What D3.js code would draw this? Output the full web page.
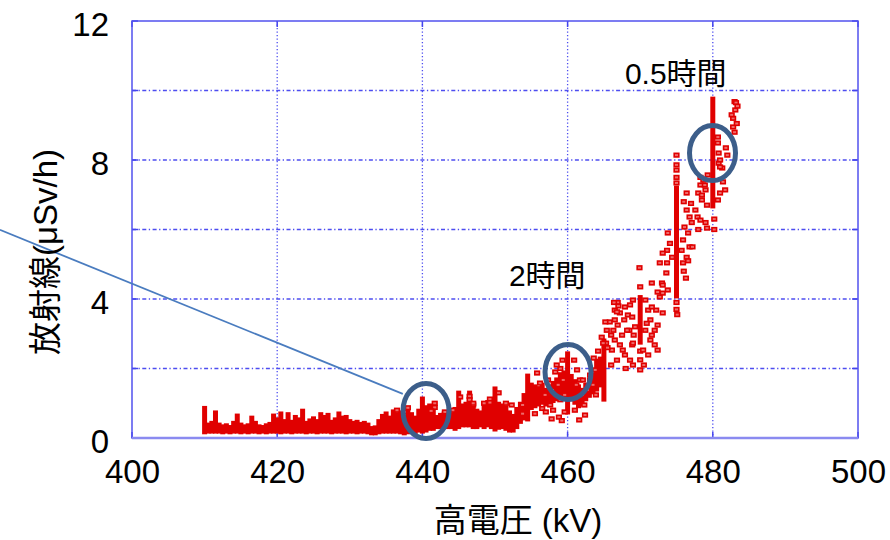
<!DOCTYPE html>
<html><head><meta charset="utf-8">
<script src="https://cdn.jsdelivr.net/npm/d3@7"></script>
<style>
html,body{margin:0;padding:0;background:#fff;}
svg{display:block;}
</style></head>
<body>
<svg id="c" width="890" height="540"></svg>
<script>
// ---- data ----
const xTicks = [400, 420, 440, 460, 480, 500];
const yGrid = [0, 2, 4, 6, 8, 10, 12];
const yLabels = [0, 4, 8, 12];

// dense runs of markers: kV, low and high radiation (µSv/h)
const colKV = [410.0,410.5,411.0,411.5,412.0,412.5,413.0,413.5,414.0,414.5,415.0,415.5,416.0,416.5,417.0,417.5,418.0,418.5,419.0,419.5,
 420.0,420.5,421.0,421.5,422.0,422.5,423.0,423.5,424.0,424.5,425.0,425.5,426.0,426.5,427.0,427.5,428.0,428.5,429.0,429.5,
 430.0,430.5,431.0,431.5,432.0,432.5,433.0,433.5,434.0,434.5,435.0,435.5,436.0,436.5,437.0,437.5,438.0,438.5,439.0,439.5,
 440.0,440.5,441.0,441.5,442.0,442.5,443.0,443.5,444.0,444.5,445.0,445.5,446.0,446.5,447.0,447.5,448.0,448.5,449.0,449.5,
 450.0,450.5,451.0,451.5,452.0,452.5,453.0,453.5,454.0,454.5,455.0,455.5,456.0,456.5,457.0,457.5,458.0,458.5,459.0,459.5,
 460.0,460.5,461.0,461.5,462.0,462.5,463.0,463.5,464.0,464.5,465.0,470.0,475.0,480.0];
const colLo = [0.15,0.17,0.17,0.17,0.17,0.15,0.17,0.15,0.17,0.17,0.15,0.17,0.15,0.17,0.17,0.15,0.17,0.15,0.17,0.17,
 0.17,0.15,0.17,0.17,0.15,0.17,0.17,0.17,0.15,0.17,0.17,0.15,0.17,0.17,0.17,0.15,0.17,0.17,0.17,0.15,
 0.17,0.17,0.15,0.17,0.17,0.15,0.12,0.12,0.15,0.17,0.17,0.17,0.17,0.17,0.15,0.12,0.15,0.17,0.15,0.20,
 0.17,0.20,0.25,0.25,0.30,0.30,0.32,0.30,0.30,0.25,0.30,0.35,0.35,0.35,0.30,0.30,0.35,0.30,0.35,0.30,
 0.23,0.28,0.30,0.25,0.20,0.20,0.30,0.45,0.55,0.52,0.85,0.90,0.95,1.00,0.95,1.00,1.05,1.10,1.10,1.20,
 0.72,1.10,1.00,0.90,0.95,1.10,1.20,1.30,1.38,1.50,1.09,2.73,4.06,6.65];
const colHi = [0.88,0.40,0.45,0.75,0.40,0.35,0.38,0.33,0.45,0.66,0.40,0.35,0.38,0.60,0.45,0.35,0.33,0.38,0.42,0.66,
 0.55,0.72,0.50,0.70,0.48,0.62,0.55,0.80,0.45,0.52,0.58,0.50,0.70,0.62,0.68,0.48,0.55,0.72,0.60,0.62,
 0.50,0.45,0.48,0.42,0.45,0.40,0.30,0.32,0.50,0.65,0.72,0.60,0.78,0.70,0.75,0.62,0.85,0.70,0.60,0.80,
 1.15,0.90,0.95,0.80,0.62,0.68,0.72,0.75,0.70,0.85,1.32,0.95,1.00,1.32,0.90,0.80,0.75,0.95,1.05,1.10,
 1.44,1.00,0.95,0.90,0.75,0.65,0.85,1.00,1.25,1.81,1.55,1.50,1.45,1.55,1.40,1.50,1.60,1.70,1.85,1.90,
 2.45,1.80,1.65,1.50,1.40,1.55,1.70,1.85,2.24,2.30,2.82,4.07,7.22,9.78];

// scattered single readings: kV and radiation (µSv/h)
const ptKV = [436.5,437.5,438.0,441.7,441.7,441.2,445.2,446.5,446.5,448.5,449.3,449.3,450.5,451.5,452.3,443.1,444.2,447.0,447.0,
 453.8,453.8,455.8,456.2,456.9,457.6,457.3,457.9,458.0,458.3,458.7,459.0,459.0,459.4,459.6,459.6,460.9,461.3,461.2,461.7,
 462.0,462.3,462.4,461.0,461.6,462.7,462.1,463.1,463.5,463.8,463.9,456.5,457.0,455.5,458.8,458.5,459.3,457.8,459.2,463.6,464.2,465.3,
 465.8,466.3,466.5,466.9,467.2,466.1,467.5,467.9,466.8,467.8,466.0,468.0,468.5,468.9,468.6,469.1,468.3,469.0,470.0,470.0,470.0,
 470.0,469.9,470.7,471.1,471.4,471.6,472.0,470.7,472.4,471.1,470.5,472.2,466.9,467.2,466.5,468.6,468.9,468.2,469.0,467.6,
 465.2,465.4,464.9,471.6,472.7,470.9,472.0,473.1,471.4,472.4,470.4,471.6,472.4,472.7,473.6,473.0,473.8,466.5,467.9,466.8,
 469.0,469.3,473.1,473.1,464.7,465.5,466.0,466.4,467.0,
 475.0,475.0,475.0,475.0,475.0,475.0,475.0,475.1,473.8,474.1,473.7,474.4,473.7,473.1,476.4,476.4,476.8,477.1,476.1,476.6,
 475.9,476.8,476.4,475.9,475.7,477.6,477.9,478.3,478.0,479.0,479.2,478.5,478.0,479.0,478.3,478.3,478.7,479.3,480.2,480.2,
 480.8,481.3,481.4,481.0,481.7,480.7,482.0,483.0,483.2,483.1,482.8,482.8,481.8,481.0,480.7,480.7,480.8,481.0,478.9,478.5,
 479.2,483.4,482.6,483.3,483.0,476.0,477.0,476.0,476.3,476.6,477.2];
const ptVal = [0.80,0.75,0.87,1.00,0.88,0.78,1.18,1.20,1.10,1.00,1.12,1.02,1.30,1.00,0.95,0.75,0.80,0.95,1.00,
 0.95,0.70,1.87,1.58,1.24,0.95,1.67,1.38,0.80,1.90,1.53,2.00,1.10,1.67,1.24,0.75,2.24,1.96,1.53,1.67,
 1.24,0.95,0.66,0.80,0.52,1.38,1.67,1.81,1.53,1.96,1.24,0.85,0.75,0.70,0.60,2.10,2.24,0.55,0.50,2.30,2.50,2.73,
 3.34,3.10,2.82,3.25,2.68,2.53,2.96,2.39,2.24,3.40,2.10,2.00,3.10,2.68,2.24,2.96,3.54,2.10,2.50,2.25,1.96,
 4.35,4.90,3.97,3.68,3.40,2.96,2.68,3.10,3.25,2.39,2.10,3.68,3.90,3.60,3.40,3.83,3.48,3.10,2.73,2.53,
 3.34,3.10,2.73,3.77,4.06,3.30,3.10,3.60,2.82,2.53,2.53,4.46,4.20,5.04,4.75,4.46,4.26,3.68,3.77,3.63,
 3.97,3.20,4.40,4.17,2.90,2.60,2.96,3.90,3.80,
 8.14,7.86,7.71,7.50,7.34,3.90,3.70,3.55,5.90,5.60,5.40,5.20,5.04,5.32,7.05,6.56,6.36,6.20,6.07,5.90,
 5.70,5.50,5.20,5.04,5.40,6.56,6.36,6.27,6.00,6.20,6.04,6.85,7.05,7.14,7.28,7.50,7.42,7.57,6.30,6.00,
 7.91,7.77,7.37,7.05,7.14,6.85,8.14,9.68,9.65,9.44,9.20,8.95,8.35,7.80,8.66,8.49,8.20,8.00,7.28,6.99,
 6.70,9.55,9.30,9.05,8.80,6.80,6.75,4.80,4.60,5.10,5.50];

// annotations
const circleKV = [440.5, 460.06, 479.96];
const circleVal = [0.78, 1.90, 8.20];
const noteText = ["0.5時間", "2時間"];
const noteKV = [474.9, 457.2];
const noteVal = [10.19, 4.37];
const pointerKV = [381.8, 437.3];
const pointerVal = [5.99, 1.27];

// ---- drawing ----
const svg = d3.select("#c");
const L = 132, R = 858, T = 21, B = 438;
const x = d3.scaleLinear().domain([400, 500]).range([L, R]);
const y = d3.scaleLinear().domain([0, 12]).range([B, T]);
const gridCol = "#4d4df0";
const numFont = "'Liberation Sans', Arial, sans-serif";
const jpFont = "'Liberation Sans', 'Noto Sans CJK JP', sans-serif";

// grid lines
svg.append("g").selectAll("line").data(xTicks.filter(d => d > 400 && d < 500)).join("line")
  .attr("x1", d => x(d)).attr("x2", d => x(d)).attr("y1", T).attr("y2", B)
  .attr("stroke", gridCol).attr("stroke-width", 1.3).attr("stroke-dasharray", "1.3,2.2");
svg.append("g").selectAll("line").data(yGrid.filter(d => d > 0 && d < 12)).join("line")
  .attr("x1", L).attr("x2", R).attr("y1", d => y(d)).attr("y2", d => y(d))
  .attr("stroke", gridCol).attr("stroke-width", 1.3).attr("stroke-dasharray", "4,2.5,1.3,2.5");

// inward ticks on all sides
const tk = svg.append("g").attr("stroke", "#4444ee").attr("stroke-width", 1.5);
xTicks.forEach(d => {
  tk.append("line").attr("x1", x(d)).attr("x2", x(d)).attr("y1", B).attr("y2", B - 6);
  tk.append("line").attr("x1", x(d)).attr("x2", x(d)).attr("y1", T).attr("y2", T + 6);
});
yGrid.forEach(d => {
  tk.append("line").attr("x1", L).attr("x2", L + 6).attr("y1", y(d)).attr("y2", y(d));
  tk.append("line").attr("x1", R).attr("x2", R - 6).attr("y1", y(d)).attr("y2", y(d));
});

// frame
svg.append("rect").attr("x", L).attr("y", T).attr("width", R - L).attr("height", B - T)
  .attr("fill", "none").attr("stroke", "#5252ee").attr("stroke-width", 1.5);
svg.append("line").attr("x1", L).attr("x2", R).attr("y1", B).attr("y2", B)
  .attr("stroke", "#8a8af0").attr("stroke-width", 2.5);

// tick labels via d3 axes
const xAxis = d3.axisBottom(x).tickValues(xTicks).tickSize(0).tickPadding(0);
const gx = svg.append("g").attr("transform", `translate(0,459.5)`).call(xAxis);
gx.select(".domain").remove();
gx.selectAll("text").attr("font-family", numFont).attr("font-size", 33).attr("fill", "#000")
  .attr("dy", "0.71em");
const yAxis = d3.axisLeft(y).tickValues(yLabels).tickSize(0).tickPadding(0);
const gy = svg.append("g").attr("transform", `translate(109,4)`).call(yAxis);
gy.select(".domain").remove();
gy.selectAll("text").attr("font-family", numFont).attr("font-size", 33).attr("fill", "#000");

// data: dense runs
const red = "#e00000";
svg.append("g").selectAll("rect").data(colKV.map((k, i) => [k, colLo[i], colHi[i]])).join("rect")
  .attr("x", d => x(d[0]) - 2.5).attr("width", 5)
  .attr("y", d => y(d[2]) - 1.5).attr("height", d => y(d[1]) - y(d[2]) + 3)
  .attr("fill", red);
// scattered markers
svg.append("g").selectAll("rect").data(ptKV.map((k, i) => [k, ptVal[i]])).join("rect")
  .attr("x", d => x(d[0]) - 2.3).attr("y", d => y(d[1]) - 1.8).attr("width", 4.6).attr("height", 3.6)
  .attr("fill", "#ee6a6a").attr("stroke", red).attr("stroke-width", 1.6);

// pointer line
svg.append("line")
  .attr("x1", x(pointerKV[0])).attr("y1", y(pointerVal[0]))
  .attr("x2", x(pointerKV[1])).attr("y2", y(pointerVal[1]))
  .attr("stroke", "#4a7cbf").attr("stroke-width", 1.8);

// circles
svg.append("g").selectAll("ellipse").data(circleKV.map((k, i) => [k, circleVal[i]])).join("ellipse")
  .attr("cx", d => x(d[0])).attr("cy", d => y(d[1])).attr("rx", 23).attr("ry", 27.5)
  .attr("fill", "none").attr("stroke", "#3c5e8a").attr("stroke-width", 5);

// notes
svg.append("g").selectAll("text").data(noteText.map((t, i) => [t, noteKV[i], noteVal[i]])).join("text")
  .attr("x", d => x(d[1])).attr("y", d => y(d[2])).attr("text-anchor", "middle")
  .attr("font-family", jpFont).attr("font-size", 30).attr("fill", "#000").text(d => d[0]);

// axis titles
svg.append("text").attr("x", 518).attr("y", 532).attr("text-anchor", "middle")
  .attr("font-family", jpFont).attr("font-size", 33).attr("fill", "#000").text("高電圧 (kV)");
svg.append("text").attr("transform", `translate(57,252) rotate(-90)`).attr("text-anchor", "middle")
  .attr("font-family", jpFont).attr("font-size", 33).attr("fill", "#000").text("放射線(μSv/h)");
</script>
</body></html>
